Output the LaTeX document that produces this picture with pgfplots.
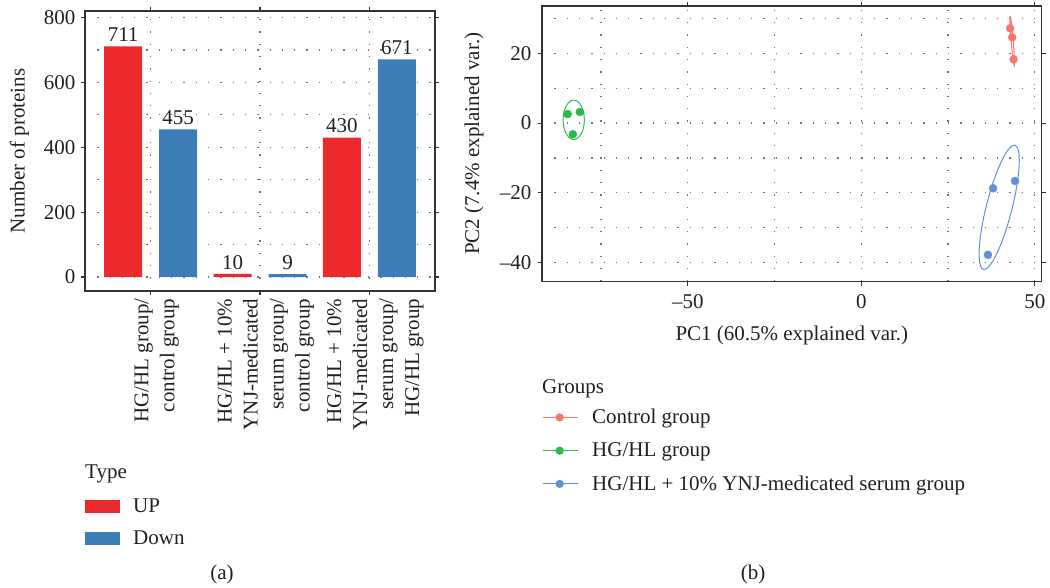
\documentclass[border=0pt]{standalone}
\usepackage{fontspec}
\setmainfont{Liberation Serif}
\usepackage{pgfplots}
\pgfplotsset{compat=1.18}
\definecolor{upred}{HTML}{EC2A2E}
\definecolor{downblue}{HTML}{3A7DB8}
\definecolor{ctrlc}{HTML}{F8766D}
\definecolor{hgc}{HTML}{2DB84A}
\definecolor{ynjc}{HTML}{6190DA}
\definecolor{txt}{HTML}{231F20}
\newcommand\fs{\fontsize{21pt}{26pt}\selectfont}
\pgfplotsset{
 mystyle/.style={
  scale only axis,
  axis line style={draw=black!80, line width=1.4pt},
  tick style={draw=black!80, line width=1.2pt},
  tick align=outside, major tick length=4pt, minor tick length=0pt,
  grid=both,
  major grid style={black!55, line width=1.3pt, dash pattern=on 1.3pt off 11pt},
  minor grid style={black!55, line width=1.3pt, dash pattern=on 1.3pt off 11pt},
  ticklabel style={font=\fs, text=txt},
  label style={font=\fs, text=txt},
  /pgf/number format/assume math mode=true,
  legend cell align=left,
 }
}
\begin{document}
\begin{tikzpicture}
\path (0pt,0pt) rectangle (1050pt,588pt);
% ---------------- (a) bar chart ----------------
\begin{axis}[mystyle,
  at={(85pt,297pt)}, anchor=south west, width=350pt, height=280pt,
  xmin=0.4, xmax=3.6, ymin=-43, ymax=820,
  xtick={1,2,3},
  xticklabels={{HG/HL group/\\control group},{HG/HL + 10\%\\YNJ-medicated\\serum group/\\control group},{HG/HL + 10\%\\YNJ-medicated\\serum group/\\HG/HL group}},
  xticklabel style={rotate=90, anchor=east, align=right, yshift=-6pt},
  yticklabel style={xshift=-2pt},
  ytick={0,200,400,600,800}, minor ytick={100,300,500,700},
  ylabel={Number of proteins},
  ylabel style={at={(axis description cs:0,0.5)}, anchor=center, yshift=65.5pt},
  legend style={at={(0,-0.74)}, anchor=north west, draw=none, fill=none,
     inner sep=0pt, font=\fs, row sep=17pt,
     nodes={inner sep=0pt, text=txt},
     /tikz/every odd column/.append style={column sep=13pt}},
]
\addplot[ybar, bar width=38pt, bar shift=-27.5pt, fill=upred, draw=none,
  nodes near coords, nodes near coords style={font=\fs, text=txt, xshift=-27.5pt, yshift=1pt},
  legend image code/.code={\fill[upred] (0pt,-6.5pt) rectangle (35pt,6.5pt);}]
  coordinates {(1,711) (2,10) (3,430)};
\addlegendentry{UP}
\addplot[ybar, bar width=38pt, bar shift=27.5pt, fill=downblue, draw=none,
  nodes near coords, nodes near coords style={font=\fs, text=txt, xshift=27.5pt, yshift=1pt},
  legend image code/.code={\fill[downblue] (0pt,-6.5pt) rectangle (35pt,6.5pt);}]
  coordinates {(1,455) (2,9) (3,671)};
\addlegendentry{Down}
\end{axis}
\node[anchor=base west, inner sep=0pt, font=\fs, text=txt] at (85pt,109.5pt) {Type};
\node[font=\fs, text=txt] at (222pt,14pt) {(a)};
% ---------------- (b) PCA ----------------
\begin{axis}[mystyle,
  at={(542pt,306.3pt)}, anchor=south west, width=499.7pt, height=275.7pt,
  xmin=-92, xmax=52, ymin=-45.5, ymax=33.6,
  xtick={-50,0,50}, xticklabels={–50,0,50}, minor xtick={-75,-25,25},
  ytick={-40,-20,0,20}, yticklabels={–40,–20,0,20}, minor ytick={-30,-10,10,30},
  xticklabel style={yshift=-5pt},
  yticklabel style={xshift=-3pt},
  xlabel={PC1 (60.5\% explained var.)},
  xlabel style={at={(axis description cs:0.5,0)}, anchor=center, yshift=-53.3pt},
  ylabel={PC2 (7.4\% explained var.)},
  ylabel style={at={(axis description cs:0,0.5)}, anchor=center, yshift=68pt},
  legend style={at={(0,-0.4624)}, anchor=north west, draw=none, fill=none,
     inner sep=0pt, font=\fs, row sep=17.5pt,
     nodes={inner sep=0pt, text=txt},
     /tikz/every odd column/.append style={column sep=14pt}},
]
% ellipses (with legend)
\addplot[ctrlc, line width=1pt, smooth,
  legend image code/.code={\draw[ctrlc, line width=1pt] (0pt,0pt) -- (35pt,0pt); \fill[ctrlc] (17pt,0pt) circle (3.6pt);}]
  coordinates {(42.90,30.70) (43.13,29.75) (43.46,27.14) (43.80,23.58) (44.06,20.00) (44.17,17.37) (44.10,16.41) (43.87,17.35) (43.54,19.95) (43.20,23.53) (42.94,27.10) (42.83,29.73) (42.90,30.70)};
\addlegendentry{Control group}
\addplot[hgc, line width=1pt, smooth,
  legend image code/.code={\draw[hgc, line width=1pt] (0pt,0pt) -- (35pt,0pt); \fill[hgc] (17pt,0pt) circle (3.6pt);}]
  coordinates {(-79.80,0.95) (-79.90,2.41) (-80.21,3.78) (-80.69,4.95) (-81.33,5.84) (-82.06,6.41) (-82.85,6.60) (-83.64,6.41) (-84.38,5.84) (-85.01,4.95) (-85.49,3.78) (-85.80,2.41) (-85.90,0.95) (-85.80,-0.51) (-85.49,-1.88) (-85.01,-3.05) (-84.38,-3.94) (-83.64,-4.51) (-82.85,-4.70) (-82.06,-4.51) (-81.33,-3.94) (-80.69,-3.05) (-80.21,-1.88) (-79.90,-0.51) (-79.80,0.95)};
\addlegendentry{HG/HL group}
\addplot[ynjc, line width=1pt, smooth,
  legend image code/.code={\draw[ynjc, line width=1pt] (0pt,0pt) -- (35pt,0pt); \fill[ynjc] (17pt,0pt) circle (3.6pt);}]
  coordinates {(44.30,-6.32) (45.07,-7.17) (45.48,-9.17) (45.50,-12.19) (45.13,-16.03) (44.39,-20.42) (43.34,-25.06) (42.04,-29.65) (40.58,-33.86) (39.07,-37.41) (37.61,-40.05) (36.29,-41.61) (35.21,-41.98) (34.43,-41.13) (34.02,-39.13) (34.00,-36.11) (34.37,-32.27) (35.11,-27.88) (36.17,-23.24) (37.46,-18.65) (38.92,-14.44) (40.43,-10.89) (41.89,-8.25) (43.21,-6.69) (44.30,-6.32)};
\addlegendentry{HG/HL + 10\% YNJ-medicated serum group}
% points
\addplot[only marks, mark=*, mark size=4pt, ctrlc, forget plot]
  coordinates {(42.9,27.2) (43.5,24.6) (43.9,18.3)};
\addplot[only marks, mark=*, mark size=4pt, hgc, forget plot]
  coordinates {(-84.6,2.6) (-81.1,3.2) (-83.1,-3.2)};
\addplot[only marks, mark=*, mark size=4pt, ynjc, forget plot]
  coordinates {(38.0,-18.7) (44.3,-16.6) (36.5,-37.8)};
\end{axis}
\node[anchor=base west, inner sep=0pt, font=\fs, text=txt] at (542pt,194.3pt) {Groups};
\node[font=\fs, text=txt] at (753pt,14pt) {(b)};
\end{tikzpicture}
\end{document}
